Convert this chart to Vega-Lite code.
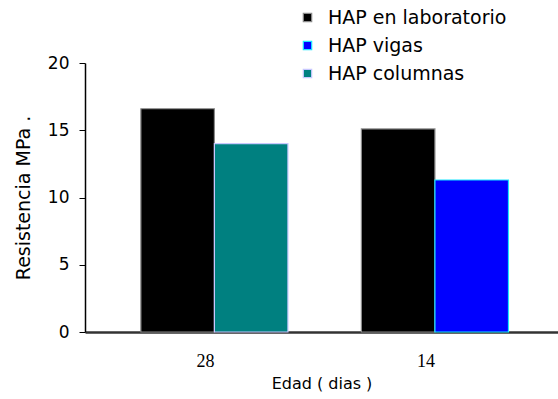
{
  "$schema": "https://vega.github.io/schema/vega-lite/v6.json",
  "autosize": {"type": "none"},
  "width": 473,
  "height": 269,
  "padding": {"left": 85, "top": 63, "right": 0, "bottom": 67},
  "background": "white",
  "data": {
    "values": [
      {"edad": "28", "slot": "a", "serie": "HAP en laboratorio", "resistencia": 16.6},
      {"edad": "28", "slot": "b", "serie": "HAP columnas", "resistencia": 14.0},
      {"edad": "14", "slot": "a", "serie": "HAP en laboratorio", "resistencia": 15.1},
      {"edad": "14", "slot": "b", "serie": "HAP vigas", "resistencia": 11.3}
    ]
  },
  "mark": {"type": "bar", "strokeWidth": 1.2},
  "encoding": {
    "x": {
      "field": "edad",
      "type": "nominal",
      "sort": ["28", "14"],
      "scale": {"paddingInner": 0.333, "paddingOuter": 0.239, "align": 0.53},
      "axis": {
        "title": "Edad ( dias )",
        "titleFont": "DejaVu Sans",
        "titleFontSize": 16,
        "titleFontWeight": "normal",
        "titleColor": "#000",
        "titlePadding": 5,
        "labelAngle": 0,
        "labelFont": "Liberation Serif",
        "labelFontSize": 18,
        "labelColor": "#000",
        "labelPadding": 20,
        "labelOffset": -9,
        "ticks": false,
        "domainColor": "#333",
        "domainWidth": 2.5
      }
    },
    "xOffset": {"field": "slot", "type": "nominal", "scale": {"paddingInner": 0, "paddingOuter": 0}},
    "y": {
      "field": "resistencia",
      "type": "quantitative",
      "scale": {"domain": [0, 20], "nice": false},
      "axis": {
        "title": "Resistencia MPa .",
        "titleFont": "DejaVu Sans",
        "titleFontSize": 19,
        "titleFontWeight": "normal",
        "titleColor": "#000",
        "titlePadding": 14,
        "values": [0, 5, 10, 15, 20],
        "grid": false,
        "labelFont": "DejaVu Sans",
        "labelFontSize": 17,
        "labelColor": "#000",
        "labelPadding": 10,
        "tickSize": 6,
        "tickColor": "#000",
        "domainColor": "#000",
        "domainWidth": 1.5
      }
    },
    "color": {
      "field": "serie",
      "type": "nominal",
      "scale": {
        "domain": ["HAP en laboratorio", "HAP vigas", "HAP columnas"],
        "range": ["#000000", "#0000ff", "#008080"]
      },
      "legend": {
        "title": null,
        "orient": "none",
        "legendX": 213,
        "legendY": -55,
        "padding": 0,
        "symbolType": "square",
        "symbolSize": 70,
        "symbolStrokeWidth": 1.2,
        "labelFont": "DejaVu Sans",
        "labelFontSize": 19,
        "labelLimit": 400,
        "labelColor": "#000",
        "labelOffset": 11,
        "rowPadding": 8
      }
    },
    "stroke": {
      "field": "serie",
      "type": "nominal",
      "scale": {
        "domain": ["HAP en laboratorio", "HAP vigas", "HAP columnas"],
        "range": ["#8a8a8a", "#19e6ff", "#c8c8ff"]
      },
      "legend": null
    }
  },
  "config": {"view": {"stroke": null}}
}
